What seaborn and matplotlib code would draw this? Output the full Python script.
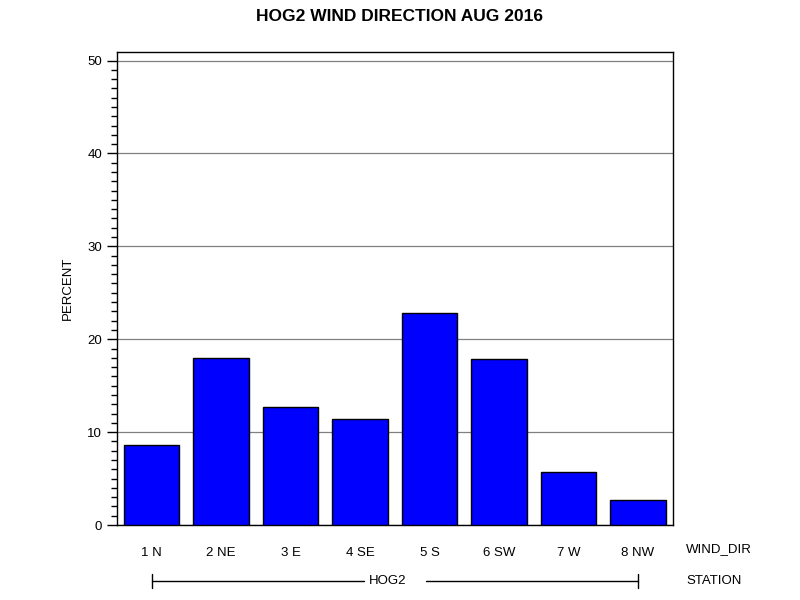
import numpy as np
import pandas as pd
import matplotlib
matplotlib.use('Agg')
import matplotlib.pyplot as plt
import matplotlib.transforms as mtransforms
from matplotlib.ticker import MultipleLocator
import seaborn as sns

# ================= DATA =================
wind_dir = ['1 N', '2 NE', '3 E', '4 SE', '5 S', '6 SW', '7 W', '8 NW']
percent = [8.6, 18.0, 12.7, 11.4, 22.8, 17.9, 5.7, 2.7]
station = 'HOG2'

df = pd.DataFrame({'WIND_DIR': wind_dir, 'PERCENT': percent})

# ================= PLOT =================
sns.set_style('white')
plt.rcParams['font.family'] = ['Liberation Sans', 'DejaVu Sans']
plt.rcParams['text.color'] = 'black'
plt.rcParams['axes.labelcolor'] = 'black'
plt.rcParams['xtick.color'] = 'black'
plt.rcParams['ytick.color'] = 'black'

fig = plt.figure(figsize=(8, 6), dpi=100)
ax = fig.add_axes([0.146, 0.125, 0.695, 0.788])

sns.barplot(data=df, x='WIND_DIR', y='PERCENT', color='#0000ff', saturation=1,
            edgecolor='black', linewidth=1, width=0.8, ax=ax, zorder=3)

ax.set_xlim(-0.5, len(wind_dir) - 0.5)
ax.set_ylim(0, 50.9)
ax.yaxis.set_major_locator(MultipleLocator(10))
ax.yaxis.set_minor_locator(MultipleLocator(1))
ax.grid(axis='y', which='major', color='#808080', linewidth=0.9, zorder=0)
ax.tick_params(axis='y', which='major', left=True, length=7, width=1, labelsize=9.5)
ax.tick_params(axis='y', which='minor', left=True, length=4, width=1)
ax.tick_params(axis='x', bottom=False, labelsize=9.5, pad=12)
for s in ax.spines.values():
    s.set_color('black')
    s.set_linewidth(1)

ax.set_xlabel('')
ax.set_ylabel('PERCENT', fontsize=9.5, labelpad=10)

fig.suptitle('HOG2 WIND DIRECTION AUG 2016', fontsize=12.5, fontweight='bold', y=0.985)

# row labels on the right
fig.text(686 / 800, 1 - 549 / 600, 'WIND_DIR', fontsize=9.5, va='center', ha='left')
fig.text(686 / 800, 1 - 581 / 600, 'STATION', fontsize=9.5, va='center', ha='left')

# station bracket under the categories
tr = mtransforms.blended_transform_factory(ax.transData, ax.transAxes)
yb = -(581 - 525) / 473
mid = (len(wind_dir) - 1) / 2
ax.plot([0, mid - 0.45], [yb, yb], color='black', lw=1, transform=tr, clip_on=False)
ax.plot([mid + 0.45, len(wind_dir) - 1], [yb, yb], color='black', lw=1, transform=tr, clip_on=False)
for xe in [0, len(wind_dir) - 1]:
    ax.plot([xe, xe], [yb - 0.014, yb + 0.014], color='black', lw=1, transform=tr, clip_on=False)
ax.text(mid - 0.1, yb, station, fontsize=9.5, ha='center', va='center', transform=tr)

fig.savefig('out.png', dpi=100)
